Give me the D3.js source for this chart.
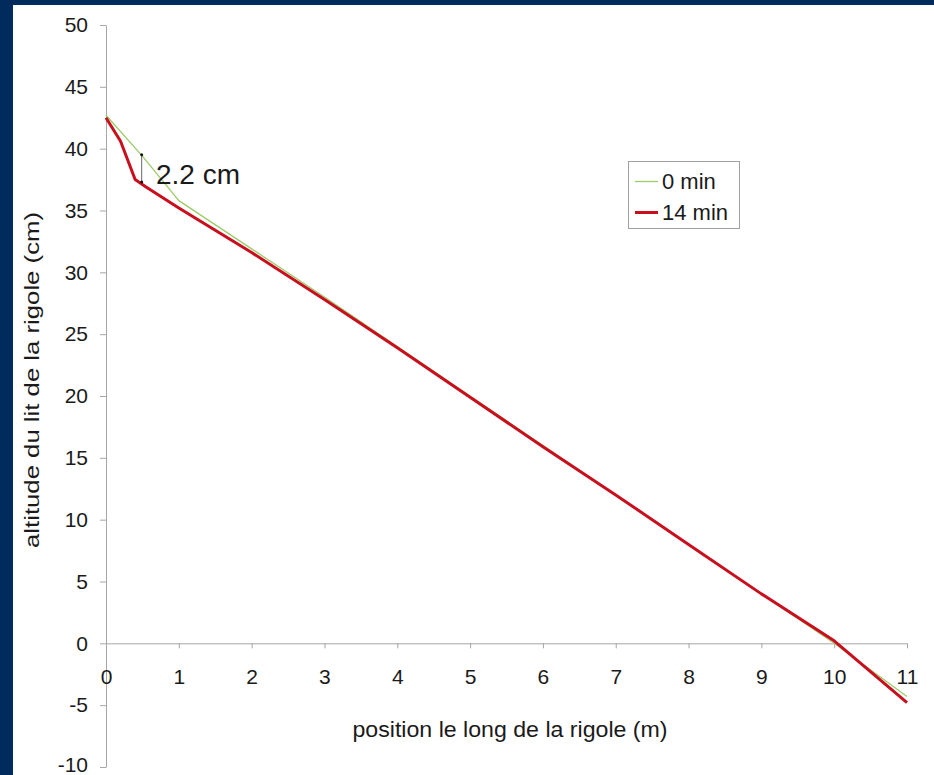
<!DOCTYPE html>
<html>
<head>
<meta charset="utf-8">
<script src="https://cdn.jsdelivr.net/npm/d3@7/dist/d3.min.js"></script>
<style>
  html, body { margin: 0; padding: 0; background: #002b5c; }
  svg { display: block; }
  text { font-family: "Liberation Sans", Arial, sans-serif; fill: #1a1a1a; }
</style>
</head>
<body>
<svg id="chart" width="934" height="775"></svg>
<script>
// ---- data ----
const seriesNames = ["0 min", "14 min"];
const x0min = [0, 0.5, 1, 2, 3, 4, 5, 6, 7, 8, 9, 10, 11];
const y0min = [42.7, 39.4, 35.8, 31.9, 28.0, 24.0, 20.0, 16.0, 12.0, 8.0, 4.0, 0.0, -4.3];
const x14min = [0, 0.2, 0.4, 0.55, 1, 2, 3, 4, 5, 6, 7, 8, 9, 10, 11];
const y14min = [42.5, 40.6, 37.5, 36.9, 35.2, 31.6, 27.8, 23.9, 19.9, 15.9, 12.0, 8.0, 4.0, 0.2, -4.8];
const xTicks = [0, 1, 2, 3, 4, 5, 6, 7, 8, 9, 10, 11];
const yTicks = [-10, -5, 0, 5, 10, 15, 20, 25, 30, 35, 40, 45, 50];
const annotX = 0.49;
const annotY = [39.5, 37.3];
const annotLabel = "2.2 cm";
const xTitle = "position le long de la rigole (m)";
const yTitle = "altitude du lit de la rigole (cm)";

const svg = d3.select("#chart");
// white panel
svg.append("rect").attr("x", 13).attr("y", 5).attr("width", 934 - 13).attr("height", 775 - 5).attr("fill", "#ffffff");

const x = d3.scaleLinear().domain([0, 11]).range([106, 907]);
const y = d3.scaleLinear().domain([-10, 50]).range([767, 25]);
const axisColor = "#a6a6a6";
const fmt = d => String(d);

// y axis
const gy = svg.append("g").attr("transform", `translate(${x(0)},0)`)
  .call(d3.axisLeft(y).tickValues(yTicks).tickFormat(fmt).tickSize(6).tickSizeOuter(0).tickPadding(12));
gy.select(".domain").attr("stroke", axisColor);
gy.selectAll(".tick line").attr("stroke", axisColor);
gy.selectAll(".tick text").attr("font-size", 21).attr("fill", "#1a1a1a")
  .attr("font-family", '"Liberation Sans", Arial, sans-serif')
  .attr("dy", d => d === -10 ? "0.2em" : "0.32em");

// x axis at y = 0
const gx = svg.append("g").attr("transform", `translate(0,${y(0)})`)
  .call(d3.axisBottom(x).tickValues(xTicks).tickFormat(fmt).tickSize(5).tickSizeOuter(0));
gx.select(".domain").attr("stroke", axisColor);
gx.selectAll(".tick line").attr("stroke", axisColor);
gx.selectAll(".tick text").attr("font-size", 21).attr("fill", "#1a1a1a")
  .attr("font-family", '"Liberation Sans", Arial, sans-serif')
  .attr("y", 41).attr("dy", 0);

// axis titles
svg.append("text").attr("x", 510).attr("y", 737).attr("text-anchor", "middle")
  .attr("font-size", 22).attr("textLength", 315).attr("lengthAdjust", "spacingAndGlyphs")
  .text(xTitle);
svg.append("text").attr("transform", `translate(39,380) rotate(-90)`).attr("text-anchor", "middle")
  .attr("font-size", 20).attr("textLength", 336).attr("lengthAdjust", "spacingAndGlyphs")
  .text(yTitle);

// lines
const line = d3.line().x(d => x(d[0])).y(d => y(d[1]));
const d0 = x0min.map((v, i) => [v, y0min[i]]);
const d14 = x14min.map((v, i) => [v, y14min[i]]);
const colors = ["#9ccc6a", "#c80f1e"];
const widths = [1.3, 3];
svg.append("path").datum(d0).attr("d", line).attr("fill", "none")
  .attr("stroke", colors[0]).attr("stroke-width", widths[0]).attr("stroke-linejoin", "round");
svg.append("path").datum(d14).attr("d", line).attr("fill", "none")
  .attr("stroke", colors[1]).attr("stroke-width", widths[1]).attr("stroke-linejoin", "round");

// annotation
svg.append("line").attr("x1", x(annotX)).attr("x2", x(annotX))
  .attr("y1", y(annotY[0])).attr("y2", y(annotY[1])).attr("stroke", "#444").attr("stroke-width", 0.8);
svg.selectAll(".adot").data(annotY).enter().append("circle")
  .attr("cx", x(annotX)).attr("cy", d => y(d)).attr("r", 1.5).attr("fill", "#111");
svg.append("text").attr("x", 156).attr("y", 184).attr("font-size", 28).text(annotLabel);

// legend
const lg = svg.append("g");
lg.append("rect").attr("x", 628.5).attr("y", 161.5).attr("width", 111).attr("height", 67)
  .attr("fill", "#fff").attr("stroke", "#a0a0a0").attr("stroke-width", 1);
seriesNames.forEach((name, i) => {
  const yy = 181.5 + i * 31;
  lg.append("line").attr("x1", 635).attr("x2", 658).attr("y1", yy).attr("y2", yy)
    .attr("stroke", colors[i]).attr("stroke-width", widths[i]);
  lg.append("text").attr("x", 662).attr("y", yy + 7.5).attr("font-size", 22).text(name);
});
</script>
</body>
</html>
